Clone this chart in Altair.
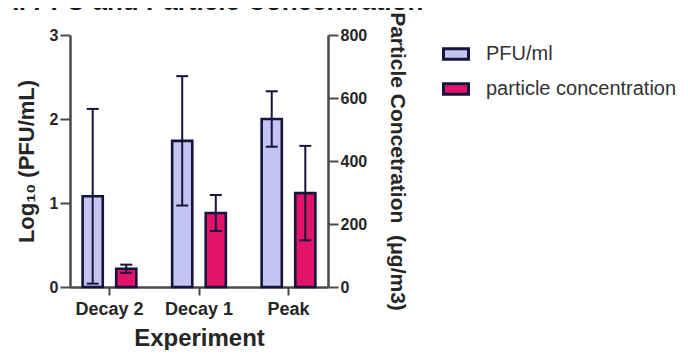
import altair as alt
import pandas as pd

# ---- data ----
experiments = ["Decay 2", "Decay 1", "Peak"]
series = ["PFU/ml", "particle concentration"]
pfu_mean = [1.08, 1.74, 2.00]
pfu_err = [1.04, 0.77, 0.33]
particle_mean = [58, 235, 298]
particle_err = [13, 57, 150]
left_ticks = [0, 1, 2, 3]
right_ticks = [0, 200, 400, 600, 800]

FONT = "Liberation Sans"
fills = ["#c4c4f2", "#e3136a"]
edge = "#14143c"
axis_color = "#4a4a4a"
text_color = "#262626"


def frame(means, errs, name):
    return pd.DataFrame({
        "Experiment": experiments,
        "Series": [name] * len(experiments),
        "mean": means,
        "lo": [m - e for m, e in zip(means, errs)],
        "hi": [m + e for m, e in zip(means, errs)],
    })


pfu_df = frame(pfu_mean, pfu_err, series[0])
part_df = frame(particle_mean, particle_err, series[1])

x_enc = alt.X(
    "Experiment:N", sort=experiments,
    scale=alt.Scale(paddingInner=0.25, paddingOuter=0.066),
    axis=alt.Axis(title="Experiment", labelAngle=0, labelFontSize=18, titleFontSize=24,
                  tickSize=8, labelPadding=5, titlePadding=8),
)
xo_enc = alt.XOffset("Series:N", sort=series,
                     scale=alt.Scale(domain=series, paddingInner=0.4, paddingOuter=0.2))
color_enc = alt.Color(
    "Series:N",
    scale=alt.Scale(domain=series, range=fills),
    legend=alt.Legend(title=None, orient="none", legendX=372, legendY=5,
                      symbolType="M-1,-0.42H1V0.42H-1Z", symbolSize=625,
                      symbolStrokeColor=edge, symbolStrokeWidth=3, symbolOpacity=1,
                      labelFontSize=20, labelFont=FONT, labelColor="#333333",
                      labelOffset=16, rowPadding=9, labelLimit=400),
)


def group(df, domain, title, axis):
    y_scale = alt.Scale(domain=domain, nice=False)
    bars = alt.Chart(df).mark_bar(stroke=edge, strokeWidth=2.6).encode(
        x=x_enc, xOffset=xo_enc, color=color_enc,
        y=alt.Y("mean:Q", scale=y_scale, axis=axis, title=title),
    )
    rule = alt.Chart(df).mark_rule(color=edge, strokeWidth=2).encode(
        x=x_enc, xOffset=xo_enc,
        y=alt.Y("lo:Q", scale=y_scale, title=title), y2="hi:Q",
    )
    cap_hi = alt.Chart(df).mark_tick(color=edge, thickness=2, size=12, opacity=1).encode(
        x=x_enc, xOffset=xo_enc, y=alt.Y("hi:Q", scale=y_scale, title=title),
    )
    cap_lo = alt.Chart(df).mark_tick(color=edge, thickness=2, size=12, opacity=1).encode(
        x=x_enc, xOffset=xo_enc, y=alt.Y("lo:Q", scale=y_scale, title=title),
    )
    return alt.layer(bars, rule, cap_hi, cap_lo)


left_axis = alt.Axis(orient="left", values=left_ticks, format="d", tickSize=10,
                     labelFontSize=16, labelPadding=2, titleFontSize=22, titlePadding=11)
right_axis = alt.Axis(orient="right", values=right_ticks, format="d", tickSize=10,
                      labelFontSize=16, labelPadding=2, titleFontSize=21, titlePadding=20)

pfu_layer = group(pfu_df, [0, 3], "Log\u2081\u2080 (PFU/mL)", left_axis)
part_layer = group(part_df, [0, 800], "Particle Concetration\u00a0 (\u03bcg/m3)", right_axis)

chart = (
    alt.layer(pfu_layer, part_layer)
    .resolve_scale(y="independent")
    .properties(
        width=258, height=252,
        autosize=alt.AutoSizeParams(type="none"),
        padding={"left": 62, "top": 27, "right": 352, "bottom": 63},
        title=alt.TitleParams(
            "A. PFU and Particle Concentration", anchor="start", frame="group",
            fontSize=26, font=FONT, fontWeight="bold", color="#1a1a1a",
            dx=-70, offset=2, dy=5,
        ),
    )
    .configure_view(stroke=None)
    .configure_axis(
        grid=False, domainColor=axis_color, domainWidth=2.5, tickColor=axis_color,
        tickWidth=2, labelFont=FONT, titleFont=FONT, labelColor=text_color,
        titleColor=text_color, labelFontWeight="bold", titleFontWeight="bold",
    )
)

chart.save("out.html", embed_options={"renderer": "svg", "actions": False})
